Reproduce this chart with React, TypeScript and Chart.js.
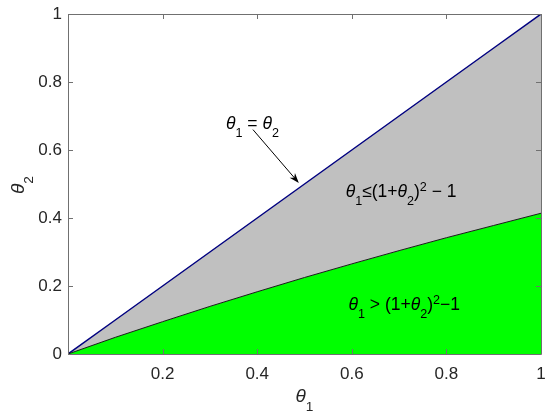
import React, { useEffect, useRef } from "react";
import { Chart, registerables } from "chart.js";

Chart.register(...registerables);

// ---- data ----
const thetaOne: number[] = [0, 0.1, 0.2, 0.3, 0.4, 0.5, 0.6, 0.7, 0.8, 0.9, 1.0];
const boundaryTheta2: number[] = [0, 0.049, 0.095, 0.14, 0.183, 0.225, 0.265, 0.304, 0.342, 0.378, 0.414];
const diagonalTheta2: number[] = [0, 0.1, 0.2, 0.3, 0.4, 0.5, 0.6, 0.7, 0.8, 0.9, 1.0];
const xTickValues: number[] = [0.2, 0.4, 0.6, 0.8, 1];
const yTickValues: number[] = [0, 0.2, 0.4, 0.6, 0.8, 1];

type Seg = { t: string; it?: boolean; sub?: boolean; sup?: boolean };

const labelEq: Seg[] = [
  { t: "θ", it: true }, { t: "1", sub: true }, { t: " = " }, { t: "θ", it: true }, { t: "2", sub: true },
];
const labelLe: Seg[] = [
  { t: "θ", it: true }, { t: "1", sub: true }, { t: "≤(1+" }, { t: "θ", it: true }, { t: "2", sub: true },
  { t: ")" }, { t: "2", sup: true }, { t: " − 1" },
];
const labelGt: Seg[] = [
  { t: "θ", it: true }, { t: "1", sub: true }, { t: " > (1+" }, { t: "θ", it: true }, { t: "2", sub: true },
  { t: ")" }, { t: "2", sup: true }, { t: "−1" },
];
const xTitle: Seg[] = [{ t: "θ", it: true }, { t: "1", sub: true }];
const yTitle: Seg[] = [{ t: "θ", it: true }, { t: "2", sub: true }];

const FAMILY = "'Liberation Sans', Arial, sans-serif";

function drawRich(ctx: CanvasRenderingContext2D, segs: Seg[], x: number, y: number, size: number) {
  let cx = x;
  ctx.textBaseline = "alphabetic";
  ctx.textAlign = "left";
  for (const s of segs) {
    const small = s.sub || s.sup;
    const fs = small ? size * 0.72 : size;
    ctx.font = `${s.it ? "italic " : ""}${fs}px ${FAMILY}`;
    const dy = s.sub ? size * 0.45 : s.sup ? -size * 0.36 : 0;
    ctx.fillText(s.t, cx, y + dy);
    cx += ctx.measureText(s.t).width;
  }
}

const overlayPlugin = {
  id: "overlay",
  afterDatasetsDraw(chart: any) {
    const ctx: CanvasRenderingContext2D = chart.ctx;
    const xs = chart.scales.x;
    const ys = chart.scales.y;
    const a = chart.chartArea;
    const px = (v: number) => xs.getPixelForValue(v);
    const py = (v: number) => ys.getPixelForValue(v);
    ctx.save();

    // box and inward ticks
    ctx.strokeStyle = "#707070";
    ctx.lineWidth = 1;
    ctx.beginPath();
    ctx.rect(Math.round(a.left) + 0.5, Math.round(a.top) + 0.5, Math.round(a.right - a.left), Math.round(a.bottom - a.top));
    ctx.stroke();
    const tl = 5;
    ctx.beginPath();
    for (const v of xTickValues) {
      const x = Math.round(px(v)) + 0.5;
      ctx.moveTo(x, a.bottom); ctx.lineTo(x, a.bottom - tl);
      ctx.moveTo(x, a.top); ctx.lineTo(x, a.top + tl);
    }
    for (const v of yTickValues) {
      const y = Math.round(py(v)) + 0.5;
      ctx.moveTo(a.left, y); ctx.lineTo(a.left + tl, y);
      ctx.moveTo(a.right, y); ctx.lineTo(a.right - tl, y);
    }
    ctx.stroke();

    // annotations
    ctx.fillStyle = "#000";
    drawRich(ctx, labelEq, px(0.334), py(0.662), 17.5);
    drawRich(ctx, labelLe, px(0.587), py(0.462), 17.5);
    drawRich(ctx, labelGt, px(0.593), py(0.129), 17.5);

    // arrow
    const x1 = px(0.391), y1 = py(0.66), x2 = px(0.488), y2 = py(0.503);
    const ang = Math.atan2(y2 - y1, x2 - x1);
    ctx.strokeStyle = "#000";
    ctx.lineWidth = 1;
    ctx.beginPath();
    ctx.moveTo(x1, y1);
    ctx.lineTo(x2 - 6 * Math.cos(ang), y2 - 6 * Math.sin(ang));
    ctx.stroke();
    const hl = 10, hw = 3.5;
    ctx.beginPath();
    ctx.moveTo(x2, y2);
    ctx.lineTo(x2 - hl * Math.cos(ang) + hw * Math.sin(ang), y2 - hl * Math.sin(ang) - hw * Math.cos(ang));
    ctx.lineTo(x2 - hl * 0.7 * Math.cos(ang), y2 - hl * 0.7 * Math.sin(ang));
    ctx.lineTo(x2 - hl * Math.cos(ang) - hw * Math.sin(ang), y2 - hl * Math.sin(ang) + hw * Math.cos(ang));
    ctx.closePath();
    ctx.fill();

    // axis titles
    ctx.fillStyle = "#262626";
    drawRich(ctx, xTitle, (a.left + a.right) / 2 - 9, 402, 19);
    ctx.translate(24, 194);
    ctx.rotate(-Math.PI / 2);
    drawRich(ctx, yTitle, 0, 0, 19);
    ctx.restore();
  },
};

const fmt = (v: number | string) => {
  const n = Number(v);
  return (Math.round(n * 10) / 10).toString();
};

export default function App() {
  const ref = useRef<HTMLCanvasElement | null>(null);
  useEffect(() => {
    if (!ref.current) return;
    const chart = new Chart(ref.current, {
      type: "line",
      data: {
        datasets: [
          {
            data: thetaOne.map((x, i) => ({ x, y: boundaryTheta2[i] })),
            fill: "origin",
            backgroundColor: "#00ff00",
            borderColor: "#1a1a1a",
            borderWidth: 1,
            pointRadius: 0,
            tension: 0,
          },
          {
            data: thetaOne.map((x, i) => ({ x, y: diagonalTheta2[i] })),
            fill: "-1",
            backgroundColor: "#c0c0c0",
            borderColor: "#000080",
            borderWidth: 1.5,
            pointRadius: 0,
            tension: 0,
          },
        ],
      },
      options: {
        animation: false,
        responsive: false,
        devicePixelRatio: 1,
        layout: { padding: { top: 14, right: 9, left: 0, bottom: 0 } },
        plugins: { legend: { display: false }, tooltip: { enabled: false } },
        scales: {
          x: {
            type: "linear",
            min: 0,
            max: 1,
            afterBuildTicks: (s: any) => { s.ticks = xTickValues.map((v) => ({ value: v })); },
            ticks: {
              callback: (v: any) => fmt(v),
              font: { family: FAMILY, size: 17 },
              color: "#262626",
              padding: 10,
              maxRotation: 0,
              autoSkip: false,
            },
            grid: { display: false, drawTicks: false },
            border: { display: false },
            afterFit: (s: any) => { s.height = 63; s.paddingRight = 0; s.paddingLeft = 0; },
          },
          y: {
            type: "linear",
            min: 0,
            max: 1,
            afterBuildTicks: (s: any) => { s.ticks = yTickValues.map((v) => ({ value: v })); },
            ticks: {
              callback: (v: any) => fmt(v),
              font: { family: FAMILY, size: 17 },
              color: "#262626",
              padding: 6,
              autoSkip: false,
            },
            grid: { display: false, drawTicks: false },
            border: { display: false },
            afterFit: (s: any) => { s.width = 68; s.paddingTop = 0; s.paddingBottom = 0; },
          },
        },
      },
      plugins: [overlayPlugin],
    } as any);
    return () => chart.destroy();
  }, []);
  return (
    <div style={{ position: "fixed", left: 0, top: 0, width: 550, height: 417, background: "#fff" }}>
      <canvas ref={ref} width={550} height={417} />
    </div>
  );
}
